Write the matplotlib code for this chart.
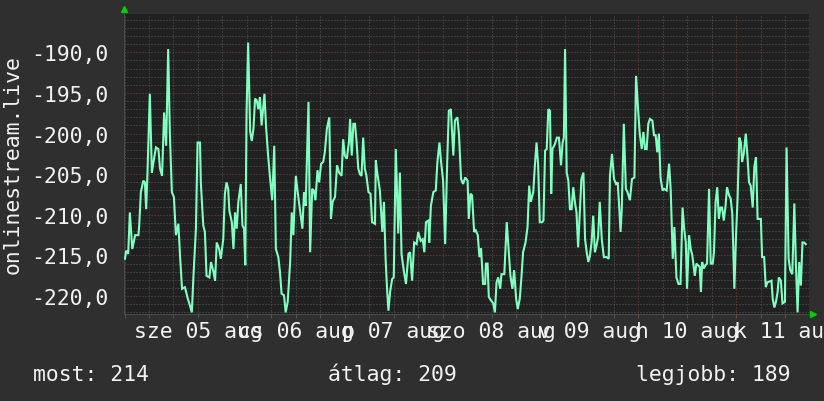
import matplotlib
matplotlib.use("Agg")
import matplotlib.pyplot as plt
import matplotlib.transforms as mtransforms
from matplotlib.ticker import MultipleLocator, FuncFormatter

# hours since 2015-08-05 00:00 and the measured value
HOURS = [
    -5.9, -5.6, -5.1, -4.7, -4.1, -3.4, -2.6, -2.4, -2.0, -1.4, -1.0, -0.7, -0.4,
    0.2, 0.7, 1.1, 1.7, 2.3, 2.7, 3.2, 3.7, 4.2, 4.7, 5.1, 5.6, 6.1, 6.6, 7.2,
    7.6, 8.1, 8.8, 9.5, 10.0, 10.5, 10.9, 11.5, 11.9, 12.5, 12.7, 13.3, 13.7,
    14.1, 14.8, 15.2, 15.8, 16.2, 16.6, 17.2, 17.6, 18.2, 18.6, 19.0, 19.4,
    19.7, 20.3, 20.7,
    21.1, 21.5, 21.9, 22.5, 22.9, 23.3, 23.6, 23.9, 24.3, 24.8, 25.2, 25.6,
    26.0, 26.4, 26.8, 27.2, 27.6, 28.3, 28.7, 29.2, 29.7, 30.2, 30.7, 31.1,
    31.7, 32.1, 32.5, 33.1, 33.5, 34.0, 34.6, 35.0, 35.4, 35.6, 36.0, 36.4,
    37.0, 37.6, 38.0, 38.4, 39.1, 39.5, 40.0, 40.4, 40.8, 41.3, 41.7, 42.2,
    42.7, 43.1, 43.6, 44.2, 44.6, 45.0, 45.6, 46.1, 46.6, 47.2, 47.6, 48.0,
    48.5, 49.0,
    49.3, 49.7, 50.1, 50.5, 50.9, 51.3, 51.7, 52.1, 52.5, 52.9, 53.3, 53.8,
    54.3, 54.7, 55.4, 55.6, 56.0, 56.6, 57.2, 57.6, 58.0, 58.4, 58.7, 59.1,
    59.6, 60.0, 60.5, 61.1, 61.5, 61.9, 62.5, 63.0, 63.6, 64.0, 64.5, 65.0,
    65.6, 66.0, 66.6, 67.1, 67.5, 67.9, 68.5, 68.7, 69.1, 69.7, 70.3, 70.7,
    71.2, 71.6, 72.1, 72.6, 73.1, 73.5, 74.0, 74.6, 75.0, 75.6, 76.0, 76.5,
    77.0,
    77.5, 78.1, 78.4, 78.8, 79.2, 79.7, 80.1, 80.6, 81.0, 81.4, 81.9, 82.4,
    82.6, 83.0, 83.3, 83.8, 84.4, 84.8, 85.2, 85.6, 86.1, 86.4, 87.1, 87.7,
    88.1, 88.6, 89.1, 89.5, 90.0, 90.4, 90.9, 91.3, 91.7, 92.3, 92.8, 93.2,
    93.6, 94.2, 94.6, 95.0, 95.4, 95.8, 96.4, 96.7, 97.1, 97.5, 97.9, 98.3,
    98.6, 98.9, 99.5, 100.0, 100.5, 101.0, 101.4, 101.7, 102.0, 102.4, 102.8,
    103.2, 103.6, 104.0, 104.4, 104.8, 105.2,
    105.6, 106.0, 106.5, 106.9, 107.3, 107.7, 108.1, 108.5, 108.9, 109.3,
    109.7, 110.1, 110.5, 111.0, 111.5, 112.2, 112.7, 113.0, 113.5, 114.0,
    114.5, 114.9, 115.3, 115.6, 115.9, 116.4, 116.9, 117.3, 117.9, 118.4,
    119.0, 119.4, 119.9, 120.3, 120.8, 121.2, 121.6, 122.0, 122.4, 122.8,
    123.4, 123.8, 124.2, 124.6, 125.0, 125.4, 125.9, 126.3, 126.9, 127.5,
    127.9, 128.4, 128.8, 129.3, 129.8, 130.3, 130.8, 131.2, 131.6, 131.9,
    132.4, 132.8, 133.2,
    133.8, 134.2, 134.6, 135.0, 135.3, 135.6, 136.0, 136.4, 136.8, 137.3,
    137.7, 138.2, 138.5, 138.9, 139.3, 139.7, 140.1, 140.5, 140.9, 141.3,
    141.7, 142.2, 142.6, 143.0, 143.5, 143.9, 144.3, 144.7, 145.1, 145.4,
    145.8, 146.3, 146.7, 147.1, 147.5, 148.0, 148.4, 148.8, 149.2, 150.0,
    150.3, 150.8, 151.2, 151.6, 152.6, 152.9, 153.3, 153.7, 154.1, 154.4,
    154.9, 155.3, 155.9, 156.3, 156.8, 157.2, 157.7, 158.2, 158.6, 159.0,
    159.4, 159.8, 160.2, 160.6, 161.0,
]

VALUES = [
    -215.4, -214.4, -214.8, -209.7, -214.2, -212.5, -212.5, -211.3, -207.2,
    -205.8, -206.0, -209.3, -205.2,
    -195.1, -204.8, -203.5, -201.7, -201.9, -204.3, -205.2, -197.4, -201.5,
    -189.6, -199.8, -207.2, -207.8, -212.5, -211.1, -215.0, -219.1, -218.9,
    -220.3, -221.1, -222.0, -217.5, -211.7, -201.1, -201.1, -206.0, -211.3,
    -212.1, -217.5, -217.7, -215.8, -217.0, -218.1, -213.4, -214.2, -215.4,
    -213.0, -207.4, -206.0, -206.8, -209.5, -210.9, -214.2,
    -209.7, -211.7, -208.4, -206.2, -211.3, -211.7, -216.2, -197.8, -188.8,
    -199.8, -200.9, -199.4, -195.7, -195.9, -197.0, -195.5, -199.0, -195.1,
    -199.2, -202.7, -205.6, -208.2, -201.5, -214.2, -215.2, -217.0, -219.7,
    -219.9, -222.0, -220.7, -215.8, -209.7, -212.5, -209.7, -205.2, -207.0,
    -209.3, -211.7, -207.2, -208.9, -196.1, -214.6, -206.8, -207.0, -208.2,
    -204.5, -206.0, -203.7, -203.5, -202.3, -199.4, -198.0, -210.5, -208.4,
    -207.8, -203.9, -204.8, -205.2, -200.7, -202.7, -203.1, -201.1,
    -198.2, -202.7, -198.8, -198.8, -201.1, -204.3, -205.0, -205.2, -200.5,
    -204.3, -205.2, -207.2, -207.4, -210.9, -211.1, -203.3, -205.0, -207.0,
    -212.1, -208.4, -215.4, -219.5, -221.8, -219.5, -217.9, -217.7, -201.9,
    -212.3, -204.8, -214.8, -217.0, -218.5, -214.8, -214.6, -218.1, -213.4,
    -213.6, -212.1, -213.2, -213.0, -214.6, -210.9, -210.7, -213.4, -208.9,
    -207.2, -207.0, -203.5, -201.1, -203.5, -205.8, -213.6, -203.5, -197.2,
    -197.0, -202.7, -198.4, -198.0, -200.2, -205.6, -206.2,
    -205.4, -205.8, -210.5, -207.4, -207.6, -212.1, -211.9, -212.5, -215.2,
    -214.1, -218.5, -218.5, -216.0, -216.0, -220.1, -220.5, -220.9, -222.0,
    -218.3, -217.7, -219.1, -217.3, -217.3, -210.9, -213.8, -217.5, -219.1,
    -216.8, -220.3, -221.6, -220.3, -217.7, -214.6, -213.4, -211.5, -206.4,
    -208.4, -207.2, -203.9, -201.1, -203.9, -210.9, -210.9, -210.7, -202.1,
    -201.9, -197.0, -197.2, -207.4, -201.9, -201.3, -200.5, -200.5, -203.9,
    -201.1, -200.5, -189.6, -204.8, -205.8, -209.3, -209.3, -206.6, -208.4,
    -209.7, -214.0,
    -209.9, -205.6, -204.8, -213.0, -214.6, -215.8, -215.0, -213.4, -210.1,
    -214.6, -213.8, -212.7, -208.4, -213.0, -215.2, -215.2, -215.4, -205.2,
    -202.5, -205.6, -206.2, -206.0, -209.3, -212.1, -209.3, -198.8, -206.8,
    -207.2, -208.2, -205.6, -205.4, -192.9, -197.0, -200.0, -201.9, -199.8,
    -201.9, -201.9, -198.8, -198.2, -198.4, -200.2, -200.2, -202.3, -200.0,
    -205.4, -207.0, -206.8, -207.0, -203.7, -207.0, -215.4, -211.5, -217.7,
    -218.5, -218.5, -209.1, -211.7, -213.4, -219.1, -212.5, -214.2, -215.0,
    -217.5, -216.0, -216.2, -216.4, -219.5, -215.8, -216.6, -216.2, -216.0,
    -206.8, -216.0, -216.0, -214.6, -208.4, -206.6, -210.5, -209.1, -209.1,
    -210.7, -209.1, -206.6, -207.6, -208.0, -209.9, -219.1, -212.7, -207.8,
    -200.5, -201.1, -203.5, -202.5, -200.0, -202.7, -206.0, -206.4, -209.1,
    -204.1, -202.9, -210.5, -210.5, -215.2, -215.2, -218.9, -218.3, -218.1,
    -220.3, -221.4, -220.7, -219.5, -217.7, -218.1, -220.9, -220.7, -201.7,
    -215.4, -216.8, -217.3, -208.6, -216.2, -222.0, -215.8, -218.7, -213.4,
    -213.4, -213.6,
]

DAY_LABELS = ["sze 05 aug", "cs 06 aug", "p 07 aug", "szo 08 aug",
              "v 09 aug", "h 10 aug", "k 11 aug"]
LABEL_HOURS = [12, 36, 60, 84, 108, 132, 156]

Y_LABEL = "onlinestream.live"
SUMMARY = [("most", 214), ("átlag", 209), ("legjobb", 189)]

X_RANGE = (-6.25, 161.8)
Y_RANGE = (-222.2, -185.25)

COL = {
    "bg":    "#2f2f2f",
    "plot":  "#212121",
    "line":  "#80ffc0",
    "minor": "#595959",
    "major": "#7a4040",
    "text":  "#f2f2f2",
    "arrow": "#00d000",
    "axis":  "#4a4a4a",
}
FONT = "DejaVu Sans Mono"
FS = 15.4

fig = plt.figure(figsize=(8.24, 4.02), dpi=100, facecolor=COL["bg"])
ax = fig.add_axes([0.1499, 0.2164, 0.8319, 0.7470])
ax.set_facecolor(COL["plot"])

ax.plot(HOURS, VALUES, color=COL["line"], lw=1.5, zorder=3,
        solid_joinstyle="miter")

ax.set_xlim(*X_RANGE)
ax.set_ylim(*Y_RANGE)

# grid: 6h / 1 unit minor, 24h / 5 unit major
ax.xaxis.set_major_locator(MultipleLocator(24))
ax.xaxis.set_minor_locator(MultipleLocator(6))
ax.yaxis.set_major_locator(MultipleLocator(5))
ax.yaxis.set_minor_locator(MultipleLocator(1))
ax.grid(True, which="minor", color=COL["minor"], lw=0.72, ls=(0, (1, 2)))
ax.grid(True, which="major", color=COL["major"], lw=0.72, ls=(0, (1, 2)))
ax.set_axisbelow(True)

ax.yaxis.set_major_formatter(FuncFormatter(lambda v, _: f"{v:.1f}".replace(".", ",")))
ax.tick_params(axis="y", which="both", length=0, pad=11,
               labelsize=FS, labelcolor=COL["text"])
ax.tick_params(axis="x", which="major", length=3, color=COL["major"],
               direction="out", labelbottom=False)
ax.tick_params(axis="x", which="minor", length=3, color=COL["minor"],
               direction="out")
for lab in ax.get_yticklabels():
    lab.set_family(FONT)

for name, spine in ax.spines.items():
    if name in ("top", "right"):
        spine.set_visible(False)
    else:
        spine.set_color(COL["axis"])
        spine.set_linewidth(0.72)

# day labels centred at noon (they overlap, as in rrdtool)
trans = mtransforms.blended_transform_factory(ax.transData, ax.transAxes)
for h, lab in zip(LABEL_HOURS, DAY_LABELS):
    ax.text(h, -0.0766, lab, transform=trans, ha="center", va="baseline",
            family=FONT, fontsize=FS, color=COL["text"], clip_on=False)

# rrdtool style axis arrows
ax.plot([0.0], [1.016], marker="^", ms=4, color=COL["arrow"],
        transform=ax.transAxes, clip_on=False)
ax.plot([1.006], [0.0], marker=">", ms=4, color=COL["arrow"],
        transform=ax.transAxes, clip_on=False)

fig.text(13 / 824, 0.5896, Y_LABEL, rotation=90, ha="center", va="center",
         family=FONT, fontsize=FS, color=COL["text"])

summary_x = [33 / 824, 328 / 824, 636 / 824]
for x, (name, val) in zip(summary_x, SUMMARY):
    fig.text(x, 0.0522, f"{name}: {val}", ha="left", va="baseline",
             family=FONT, fontsize=FS, color=COL["text"])

fig.savefig("out.png", dpi=100, facecolor=COL["bg"])
